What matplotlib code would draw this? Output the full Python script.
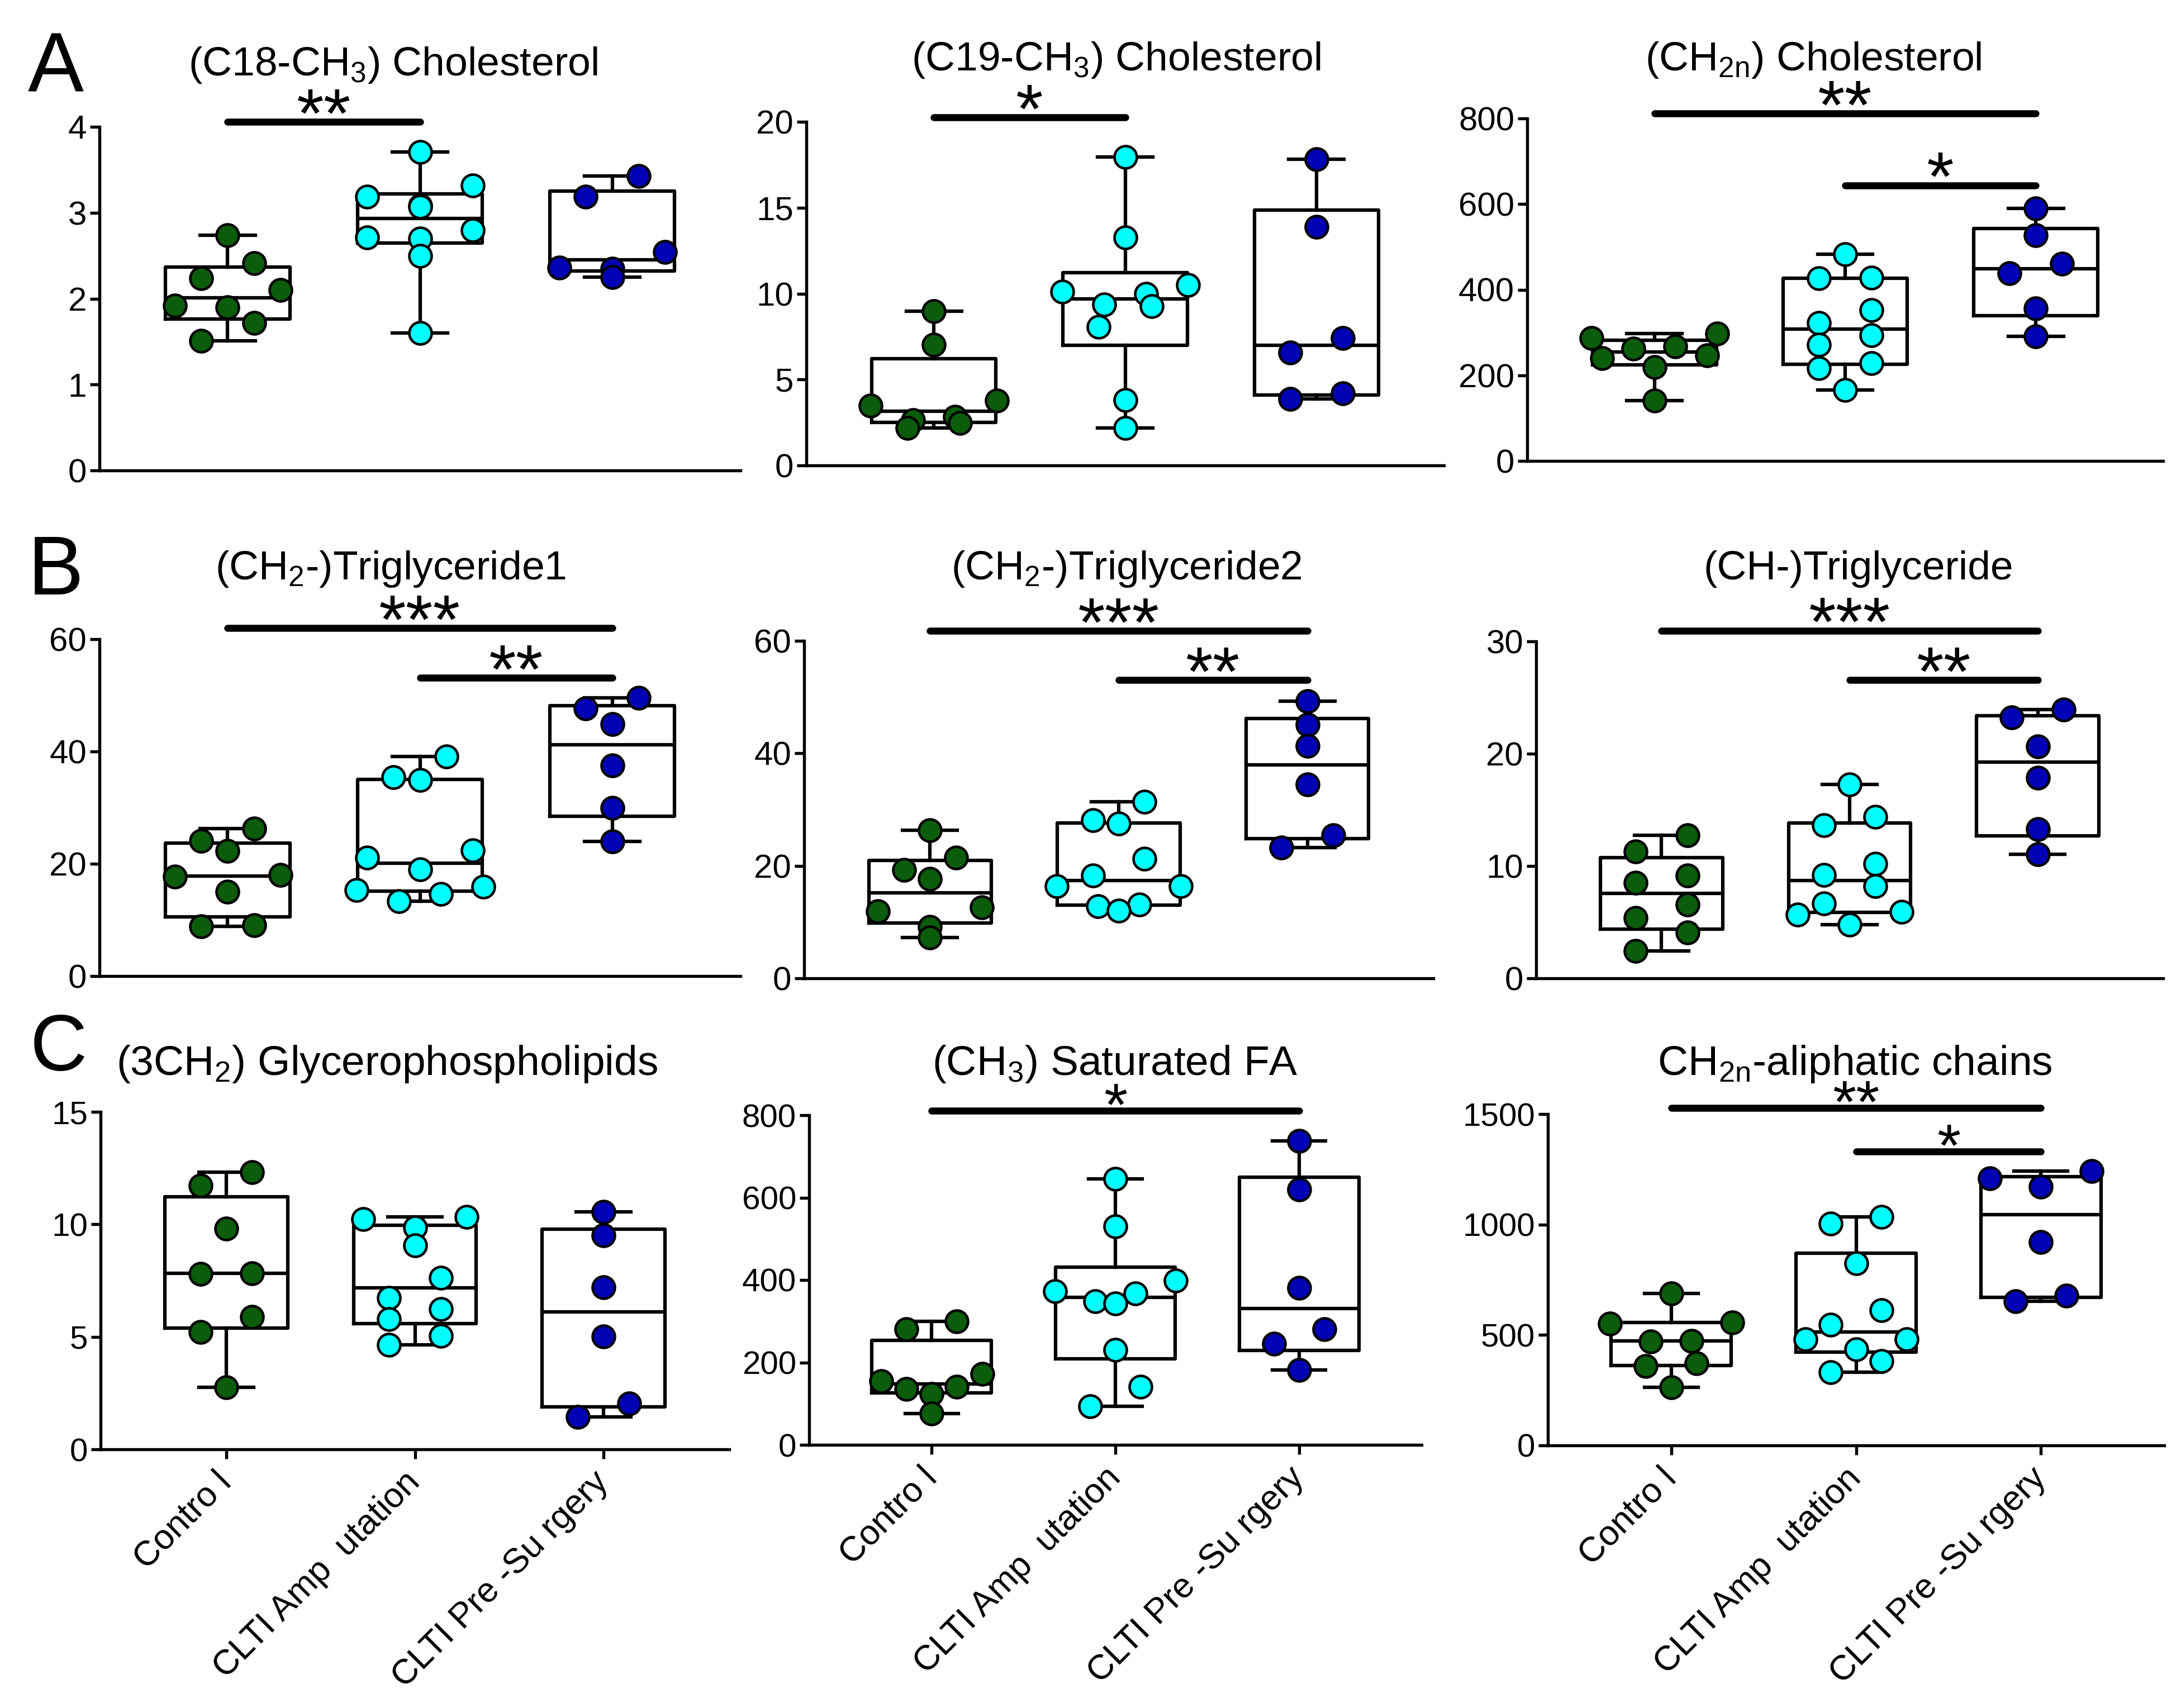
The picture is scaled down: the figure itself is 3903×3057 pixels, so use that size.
import numpy as np
import matplotlib
matplotlib.use('Agg')
import matplotlib.pyplot as plt

# groups / colours
GROUPS = ['Contro l', 'CLTI Amp  utation', 'CLTI Pre -Su rgery']
COLORS = ['#0b5c0b', '#00ffff', '#0000b4']

# A - cholesterol
c18_ctrl = [2.74, 2.41, 2.24, 2.10, 1.92, 1.90, 1.72, 1.51]
c18_amp = [3.71, 3.32, 3.19, 3.08, 3.07, 2.80, 2.71, 2.70, 2.50, 1.60]
c18_pre = [3.43, 3.19, 2.54, 2.36, 2.35, 2.25]

c19_ctrl = [8.99, 7.03, 3.77, 3.49, 2.84, 2.65, 2.46, 2.18]
c19_amp = [17.95, 13.28, 10.52, 10.11, 9.98, 9.37, 9.27, 8.06, 3.82, 2.18]
c19_pre = [17.82, 13.88, 7.41, 6.57, 4.18, 3.86]

ch2n_ctrl = [297, 287, 268, 262, 247, 240, 219, 141]
ch2n_amp = [483, 428, 427, 353, 322, 293, 272, 228, 217, 166]
ch2n_pre = [590, 527, 461, 438, 356, 291]

# B - triglycerides
tg1_ctrl = [26.3, 24.1, 22.3, 18.0, 17.7, 15.0, 9.1, 8.9]
tg1_amp = [39.1, 35.4, 34.9, 22.4, 21.1, 19.0, 15.9, 15.3, 14.6, 13.3]
tg1_pre = [49.6, 47.7, 44.9, 37.5, 30.0, 24.0]

tg2_ctrl = [26.3, 21.5, 19.3, 17.7, 12.6, 11.9, 9.1, 7.3]
tg2_amp = [31.4, 28.1, 27.5, 21.3, 18.3, 16.4, 16.4, 13.1, 12.8, 12.0]
tg2_pre = [49.3, 45.1, 41.3, 34.5, 25.4, 23.2]

chtg_ctrl = [12.73, 11.30, 9.16, 8.51, 6.59, 5.37, 4.08, 2.46]
chtg_amp = [17.27, 14.36, 13.65, 10.22, 9.22, 8.22, 6.65, 5.94, 5.65, 4.80]
chtg_pre = [23.92, 23.21, 20.64, 17.84, 13.27, 11.02]

# C - phospholipids / FA
gpl_ctrl = [12.31, 11.71, 9.80, 7.83, 7.81, 5.88, 5.22, 2.75]
gpl_amp = [10.32, 10.22, 9.86, 9.06, 7.63, 6.73, 6.24, 5.78, 5.04, 4.64]
gpl_pre = [10.56, 9.52, 7.21, 5.02, 2.03, 1.43]

sfa_ctrl = [299, 281, 172, 155, 141, 136, 123, 76]
sfa_amp = [645, 530, 399, 373, 367, 348, 343, 231, 141, 93]
sfa_pre = [737, 620, 381, 281, 245, 182]

ali_ctrl = [687, 557, 551, 474, 470, 373, 359, 264]
ali_amp = [1034, 1003, 825, 612, 547, 480, 480, 436, 383, 332]
ali_pre = [1241, 1210, 1170, 920, 677, 653]

# significance bars: (group a, group b, y, label)
sig_c18 = [(0, 1, 4.06, '**')]
sig_c19 = [(0, 1, 20.26, '*')]
sig_ch2n = [(0, 2, 812, '**'), (1, 2, 644, '*')]
sig_tg1 = [(0, 2, 62.0, '***'), (1, 2, 53.1, '**')]
sig_tg2 = [(0, 2, 61.8, '***'), (1, 2, 53.0, '**')]
sig_chtg = [(0, 2, 30.97, '***'), (1, 2, 26.55, '**')]
sig_gpl = []
sig_sfa = [(0, 2, 811, '*')]
sig_ali = [(0, 2, 1528, '**'), (1, 2, 1330, '*')]

W, H = 3903, 3057
DPI = 300
plt.rcParams['font.family'] = ['Liberation Sans', 'DejaVu Sans']

# sideways offsets (in units of step) for a row of k near-equal values
PATTERNS = {1: [0], 2: [0.5, -0.5], 3: [1, -1, 0], 4: [1.2, -1.2, 0.4, -0.4],
            5: [1, -1, 0.5, -0.5, 0]}


def spread(vals, px_per_unit, thresh_px, step):
  # prism-like: cluster close values into rows, fan rows out sideways
  vals = np.asarray(vals, float)
  order = np.argsort(-vals, kind='stable')
  rows = []
  for i in order:
    if rows and (vals[rows[-1][0]] - vals[i]) * px_per_unit < thresh_px and len(rows[-1]) < 5:
      rows[-1].append(i)
    else:
      rows.append([i])
  x = np.zeros(len(vals))
  for r in rows:
    for j, i in enumerate(r):
      x[i] = PATTERNS[len(r)][j] * step
  return x


def box_stats(vals):
  q1, med, q3 = np.percentile(vals, [25, 50, 75], method='weibull')
  return dict(med=med, q1=q1, q3=q3, whislo=min(vals), whishi=max(vals), fliers=[])


fig = plt.figure(figsize=(W / DPI, H / DPI), dpi=DPI)


def panel(rect_px, data, ymax, yticks, sig, title, title_px, row_c):
  l, tp, r, b = rect_px
  ax = fig.add_axes([l / W, 1 - b / H, (r - l) / W, (b - tp) / H])
  ax.set_xlim(-0.667, 2.667)
  ax.set_ylim(0, ymax)
  ax.patch.set_alpha(0)
  for s in ['top', 'right']:
    ax.spines[s].set_visible(False)
  for s in ['left', 'bottom']:
    ax.spines[s].set_linewidth(1.3)
  lw = 1.5
  ax.bxp([box_stats(v) for v in data], positions=[0, 1, 2], widths=0.65,
         capwidths=0.29, showfliers=False, patch_artist=False,
         boxprops=dict(color='k', lw=lw), medianprops=dict(color='k', lw=lw),
         whiskerprops=dict(color='k', lw=lw), capprops=dict(color='k', lw=lw))
  px_per_unit = (b - tp) / ymax
  for g, (v, c) in enumerate(zip(data, COLORS)):
    dx = spread(v, px_per_unit, 38, 0.275)
    ax.plot(g + dx, v, 'o', ms=9.6, mfc=c, mec='k', mew=1.1, ls='none',
            zorder=3, clip_on=False)
  ax.set_yticks(yticks)
  ax.set_yticklabels([str(y) for y in yticks], fontsize=(14 if row_c else 14.4))
  ax.tick_params(axis='y', length=4, width=1.3, pad=1.5)
  if row_c:
    ax.set_xticks([0, 1, 2])
    ax.set_xticklabels(GROUPS, rotation=45, ha='right', va='center',
                       rotation_mode='anchor', fontsize=15)
    ax.tick_params(axis='x', length=4, width=1.3, pad=8)
  else:
    ax.set_xticks([])
  for a, bb, y, lab in sig:
    ax.plot([a, bb], [y, y], color='k', lw=3.0, solid_capstyle='round',
            clip_on=False, zorder=4)
    ax.annotate(lab, xy=((a + bb) / 2, y), xytext=(0, (-6 if row_c else -6.5)),
                textcoords='offset points', ha='center', va='baseline',
                fontsize=(26 if row_c else 30), annotation_clip=False)
  fig.text(title_px[0] / W, 1 - title_px[1] / H, title, ha='center', va='baseline',
           fontsize=(18 if row_c else 17.6))
  return ax


panel((178, 227, 1325, 842), [c18_ctrl, c18_amp, c18_pre], 4, [0, 1, 2, 3, 4], sig_c18,
      '(C18-CH$_{\\mathregular{3}}$) Cholesterol', (703, 135), False)
panel((1443, 218, 2584, 833), [c19_ctrl, c19_amp, c19_pre], 20, [0, 5, 10, 15, 20], sig_c19,
      '(C19-CH$_{\\mathregular{3}}$) Cholesterol', (1997, 126), False)
panel((2733, 212, 3871, 825), [ch2n_ctrl, ch2n_amp, ch2n_pre], 800, [0, 200, 400, 600, 800],
      sig_ch2n, '(CH$_{\\mathregular{2n}}$) Cholesterol', (3245, 126), False)

panel((178, 1144, 1325, 1747), [tg1_ctrl, tg1_amp, tg1_pre], 60, [0, 20, 40, 60], sig_tg1,
      '(CH$_{\\mathregular{2}}$-)Triglyceride1', (699, 1037), False)
panel((1439, 1147, 2565, 1751), [tg2_ctrl, tg2_amp, tg2_pre], 60, [0, 20, 40, 60], sig_tg2,
      '(CH$_{\\mathregular{2}}$-)Triglyceride2', (2016, 1037), False)
panel((2749, 1148, 3871, 1751), [chtg_ctrl, chtg_amp, chtg_pre], 30, [0, 10, 20, 30], sig_chtg,
      '(CH-)Triglyceride', (3326, 1037), False)

panel((180, 1990, 1305, 2594), [gpl_ctrl, gpl_amp, gpl_pre], 15, [0, 5, 10, 15], sig_gpl,
      '(3CH$_{\\mathregular{2}}$) Glycerophospholipids', (693, 1924), True)
panel((1448, 1996, 2544, 2586), [sfa_ctrl, sfa_amp, sfa_pre], 800, [0, 200, 400, 600, 800],
      sig_sfa, '(CH$_{\\mathregular{3}}$) Saturated FA', (1995, 1924), True)
panel((2770, 1994, 3873, 2587), [ali_ctrl, ali_amp, ali_pre], 1500, [0, 500, 1000, 1500],
      sig_ali, 'CH$_{\\mathregular{2n}}$-aliphatic chains', (3319, 1924), True)

fig.text(50 / W, 1 - 164 / H, 'A', fontsize=36, va='baseline')
fig.text(50 / W, 1 - 1064 / H, 'B', fontsize=36, va='baseline')
fig.text(54 / W, 1 - 1916 / H, 'C', fontsize=34, va='baseline')

fig.savefig('out.png', dpi=DPI, facecolor='white')
